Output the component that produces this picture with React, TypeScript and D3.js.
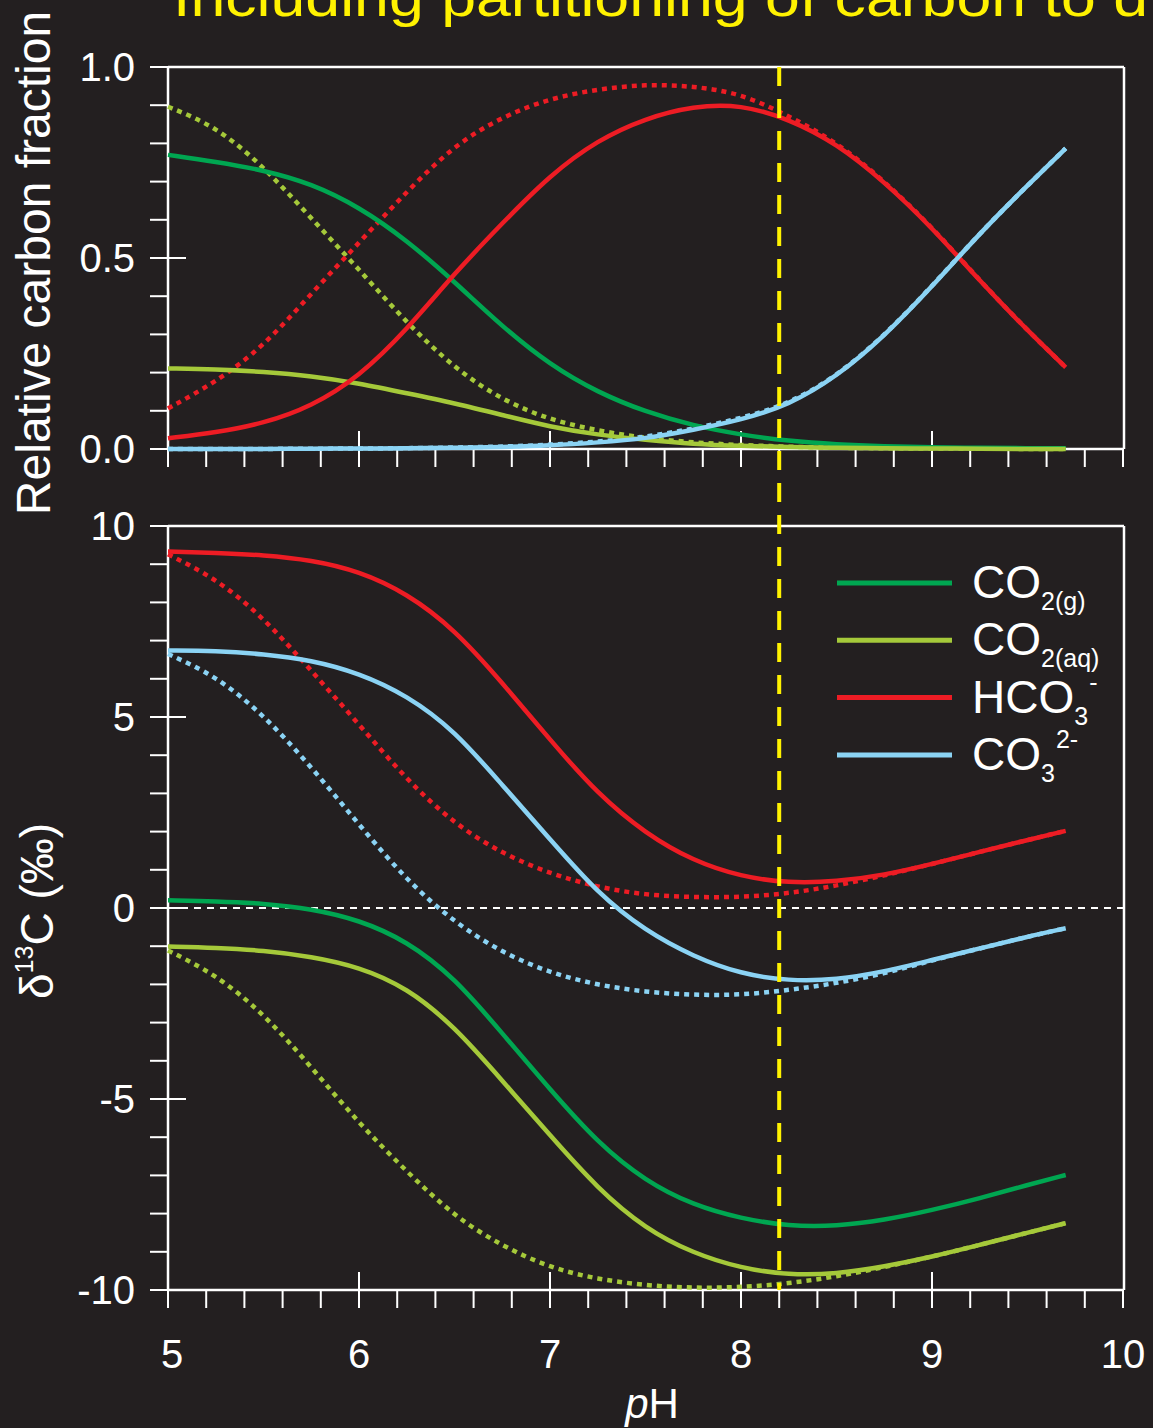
import React from 'react';
import * as d3 from 'd3';

// pH sampling points
const phValues = [5, 5.25, 5.5, 5.75, 6, 6.25, 6.5, 6.75, 7, 7.25, 7.5, 7.75, 8, 8.25, 8.5, 8.75, 9, 9.25, 9.5, 9.7];

// top panel: relative carbon fraction, with gas phase (solid)
const fracCO2g = [0.770, 0.752, 0.730, 0.695, 0.634, 0.547, 0.438, 0.320, 0.220, 0.148, 0.097, 0.061, 0.037, 0.021, 0.012, 0.007, 0.004, 0.003, 0.002, 0.002];
const fracCO2aq = [0.211, 0.209, 0.202, 0.191, 0.172, 0.146, 0.120, 0.089, 0.058, 0.037, 0.024, 0.013, 0.008, 0.005, 0.003, 0.002, 0.001, 0.001, 0, 0];
const fracHCO3 = [0.028, 0.043, 0.067, 0.111, 0.189, 0.312, 0.460, 0.591, 0.717, 0.809, 0.866, 0.898, 0.902, 0.864, 0.800, 0.700, 0.580, 0.440, 0.310, 0.214];
const fracCO3 = [0, 0, 0, 0.001, 0.001, 0.002, 0.003, 0.005, 0.009, 0.017, 0.027, 0.050, 0.076, 0.115, 0.189, 0.295, 0.425, 0.565, 0.690, 0.787];
// top panel: without gas phase (dotted)
const fracCO2aqNoGas = [0.896, 0.845, 0.740, 0.604, 0.470, 0.330, 0.211, 0.128, 0.076, 0.048, 0.028, 0.017, 0.010, 0.006, 0.003, 0.002, 0.001, 0.001, 0, 0];
const fracHCO3NoGas = [0.106, 0.175, 0.268, 0.407, 0.540, 0.674, 0.796, 0.870, 0.918, 0.942, 0.955, 0.950, 0.931, 0.872, 0.804, 0.702, 0.581, 0.441, 0.310, 0.214];
const fracCO3NoGas = [0, 0, 0, 0.001, 0.001, 0.002, 0.004, 0.006, 0.011, 0.019, 0.031, 0.053, 0.080, 0.118, 0.190, 0.296, 0.426, 0.565, 0.690, 0.787];

// bottom panel: d13C (permil), with gas phase (solid)
const d13CO2g = [0.20, 0.18, 0.12, -0.02, -0.31, -0.86, -1.82, -3.28, -4.75, -6.15, -7.15, -7.78, -8.13, -8.33, -8.33, -8.17, -7.91, -7.60, -7.25, -6.99];
const d13CO2aq = [-1.01, -1.04, -1.11, -1.27, -1.54, -2.08, -3.10, -4.52, -5.95, -7.35, -8.40, -9.04, -9.43, -9.61, -9.58, -9.39, -9.13, -8.82, -8.50, -8.25];
const d13HCO3 = [9.33, 9.30, 9.24, 9.11, 8.82, 8.24, 7.30, 5.90, 4.40, 2.98, 1.95, 1.23, 0.82, 0.65, 0.69, 0.86, 1.15, 1.47, 1.78, 2.02];
const d13CO3 = [6.74, 6.73, 6.65, 6.49, 6.15, 5.57, 4.65, 3.22, 1.80, 0.38, -0.60, -1.27, -1.73, -1.91, -1.88, -1.67, -1.36, -1.06, -0.75, -0.53];
// bottom panel: without gas phase (dotted)
const d13CO2aqNoGas = [-1.11, -1.74, -2.76, -4.16, -5.64, -6.90, -8.08, -8.85, -9.42, -9.72, -9.88, -9.95, -9.93, -9.83, -9.65, -9.40, -9.13, -8.82, -8.50, -8.25];
const d13HCO3NoGas = [9.26, 8.63, 7.61, 6.21, 4.81, 3.35, 2.20, 1.42, 0.90, 0.54, 0.34, 0.28, 0.28, 0.38, 0.58, 0.85, 1.15, 1.47, 1.78, 2.02];
const d13CO3NoGas = [6.65, 6.08, 5.06, 3.70, 2.18, 0.72, -0.38, -1.17, -1.70, -2.02, -2.20, -2.28, -2.28, -2.15, -1.97, -1.72, -1.37, -1.06, -0.75, -0.53];

const xTickLabels = [5, 6, 7, 8, 9, 10];
const fracTickLabels = [0, 0.5, 1];
const deltaTickLabels = [-10, -5, 0, 5, 10];
const markerPH = 8.2;

const BG = '#231f20';
const GREEN = '#00a651';
const LIME = '#a5c93a';
const RED = '#ed1c24';
const BLUE = '#8bd3f4';
const YELLOW = '#fff200';
const FONT = "'Liberation Sans', Arial, sans-serif";

const W = 1153;
const H = 1428;
const plotLeft = 168;
const plotRight = 1123;
const tickLen = 18;

const x = d3.scaleLinear().domain([5, 10]).range([plotLeft, plotRight]);
const yFrac = d3.scaleLinear().domain([0, 1]).range([449, 67]);
const yDelta = d3.scaleLinear().domain([-10, 10]).range([1290, 526]);

const makeLine = (y: d3.ScaleLinear<number, number>, vals: number[]) =>
  d3
    .line<number>()
    .x((_, i) => x(phValues[i]))
    .y((v) => y(v))
    .curve(d3.curveBasis)(vals) as string;

type Series = { vals: number[]; color: string; dotted?: boolean };

const fracSeries: Series[] = [
  { vals: fracCO2aqNoGas, color: LIME, dotted: true },
  { vals: fracHCO3NoGas, color: RED, dotted: true },
  { vals: fracCO3NoGas, color: BLUE, dotted: true },
  { vals: fracCO2g, color: GREEN },
  { vals: fracCO2aq, color: LIME },
  { vals: fracHCO3, color: RED },
  { vals: fracCO3, color: BLUE },
];

const deltaSeries: Series[] = [
  { vals: d13CO2aqNoGas, color: LIME, dotted: true },
  { vals: d13HCO3NoGas, color: RED, dotted: true },
  { vals: d13CO3NoGas, color: BLUE, dotted: true },
  { vals: d13CO2g, color: GREEN },
  { vals: d13CO2aq, color: LIME },
  { vals: d13HCO3, color: RED },
  { vals: d13CO3, color: BLUE },
];

const xTicks = d3.range(0, 26).map((i) => 5 + i * 0.2);

const Panel = ({
  y,
  minorStep,
  labels,
  fmt,
  series,
}: {
  y: d3.ScaleLinear<number, number>;
  minorStep: number;
  labels: number[];
  fmt: (v: number) => string;
  series: Series[];
}) => {
  const [lo, hi] = y.domain();
  const yTop = y(hi);
  const yBot = y(lo);
  const n = Math.round((hi - lo) / minorStep);
  const yTicks = d3.range(0, n + 1).map((i) => lo + i * minorStep);
  const isMajor = (v: number) => labels.some((l) => Math.abs(l - v) < 1e-6);
  return (
    <g>
      {/* frame */}
      <line x1={plotLeft} x2={plotRight + 1} y1={yTop} y2={yTop} stroke="#fff" strokeWidth={2.5} />
      <line x1={plotRight + 1} x2={plotRight + 1} y1={yTop} y2={yBot} stroke="#fff" strokeWidth={2.5} />
      <line x1={plotLeft} x2={plotLeft} y1={yTop} y2={yBot} stroke="#fff" strokeWidth={2.5} />
      <line x1={plotLeft} x2={plotRight + 1} y1={yBot} y2={yBot} stroke="#fff" strokeWidth={2.5} />
      {yTicks.map((v) => (
        <line
          key={'y' + v}
          x1={plotLeft - tickLen}
          x2={isMajor(v) ? plotLeft + tickLen : plotLeft}
          y1={y(v)}
          y2={y(v)}
          stroke="#fff"
          strokeWidth={2}
        />
      ))}
      {xTicks.map((p) => {
        const major = Math.abs(p - Math.round(p)) < 1e-6 && p > 5.01 && p < 9.99;
        return (
          <line
            key={'x' + p}
            x1={x(p)}
            x2={x(p)}
            y1={major ? yBot - tickLen : yBot}
            y2={yBot + tickLen}
            stroke="#fff"
            strokeWidth={2}
          />
        );
      })}
      {labels.map((v) => (
        <text
          key={'l' + v}
          x={135}
          y={y(v)}
          dy="0.36em"
          textAnchor="end"
          fill="#fff"
          fontSize={40}
          fontFamily={FONT}
        >
          {fmt(v)}
        </text>
      ))}
      {series.map((s, i) => (
        <path
          key={'s' + i}
          d={makeLine(y, s.vals)}
          fill="none"
          stroke={s.color}
          strokeWidth={4.5}
          strokeDasharray={s.dotted ? '5,5' : undefined}
        />
      ))}
    </g>
  );
};

const legendRows = [
  { color: GREEN, main: 'CO', sub: '2(g)', sup: '' },
  { color: LIME, main: 'CO', sub: '2(aq)', sup: '' },
  { color: RED, main: 'HCO', sub: '3', sup: '-' },
  { color: BLUE, main: 'CO', sub: '3', sup: '2-' },
];

export default function App() {
  return (
    <svg
      width={W}
      height={H}
      style={{ position: 'absolute', left: 0, top: 0, background: BG, display: 'block' }}
    >
      <rect x={0} y={0} width={W} height={H} fill={BG} />
      <text
        x={173}
        y={16}
        fill={YELLOW}
        fontSize={54}
        fontFamily={FONT}
        textLength={975}
        lengthAdjust="spacingAndGlyphs"
      >
        Including partitioning of carbon to d
      </text>

      <Panel y={yFrac} minorStep={0.1} labels={fracTickLabels} fmt={(v) => v.toFixed(1)} series={fracSeries} />

      {/* zero reference in delta panel */}
      <line
        x1={plotLeft}
        x2={plotRight}
        y1={yDelta(0)}
        y2={yDelta(0)}
        stroke="#fff"
        strokeWidth={2}
        strokeDasharray="7,6"
      />
      <Panel y={yDelta} minorStep={1} labels={deltaTickLabels} fmt={(v) => String(v)} series={deltaSeries} />

      {/* pH marker */}
      <line
        x1={x(markerPH)}
        x2={x(markerPH)}
        y1={yFrac(1)}
        y2={yDelta(-10)}
        stroke={YELLOW}
        strokeWidth={4}
        strokeDasharray="19,13"
      />

      {xTickLabels.map((p) => (
        <text
          key={'xl' + p}
          x={x(p) + (p === 5 ? 4 : 0)}
          y={1368}
          textAnchor="middle"
          fill="#fff"
          fontSize={40}
          fontFamily={FONT}
        >
          {p}
        </text>
      ))}
      <text x={652} y={1418} textAnchor="middle" fill="#fff" fontSize={42} fontFamily={FONT}>
        <tspan fontStyle="italic">p</tspan>H
      </text>

      <text
        transform="translate(50,263) rotate(-90)"
        textAnchor="middle"
        fill="#fff"
        fontSize={48}
        fontFamily={FONT}
      >
        Relative carbon fraction
      </text>
      <text
        transform="translate(53,911) rotate(-90)"
        textAnchor="middle"
        fill="#fff"
        fontSize={46}
        fontFamily={FONT}
      >
        δ
        <tspan fontSize={25} dy={-20}>13</tspan>
        <tspan dy={20}>C (‰)</tspan>
      </text>

      {/* legend */}
      {legendRows.map((r, i) => {
        const ly = 583 + i * 57.3;
        return (
          <g key={'lg' + i}>
            <line x1={837} x2={952} y1={ly} y2={ly} stroke={r.color} strokeWidth={5} />
            <text x={972} y={ly + 15} fill="#fff" fontSize={46} fontFamily={FONT}>
              {r.main}
              <tspan fontSize={25} dy={12}>
                {r.sub}
              </tspan>
              {r.sup ? (
                <tspan fontSize={25} dx={1} dy={-34}>
                  {r.sup}
                </tspan>
              ) : null}
            </text>
          </g>
        );
      })}
    </svg>
  );
}
